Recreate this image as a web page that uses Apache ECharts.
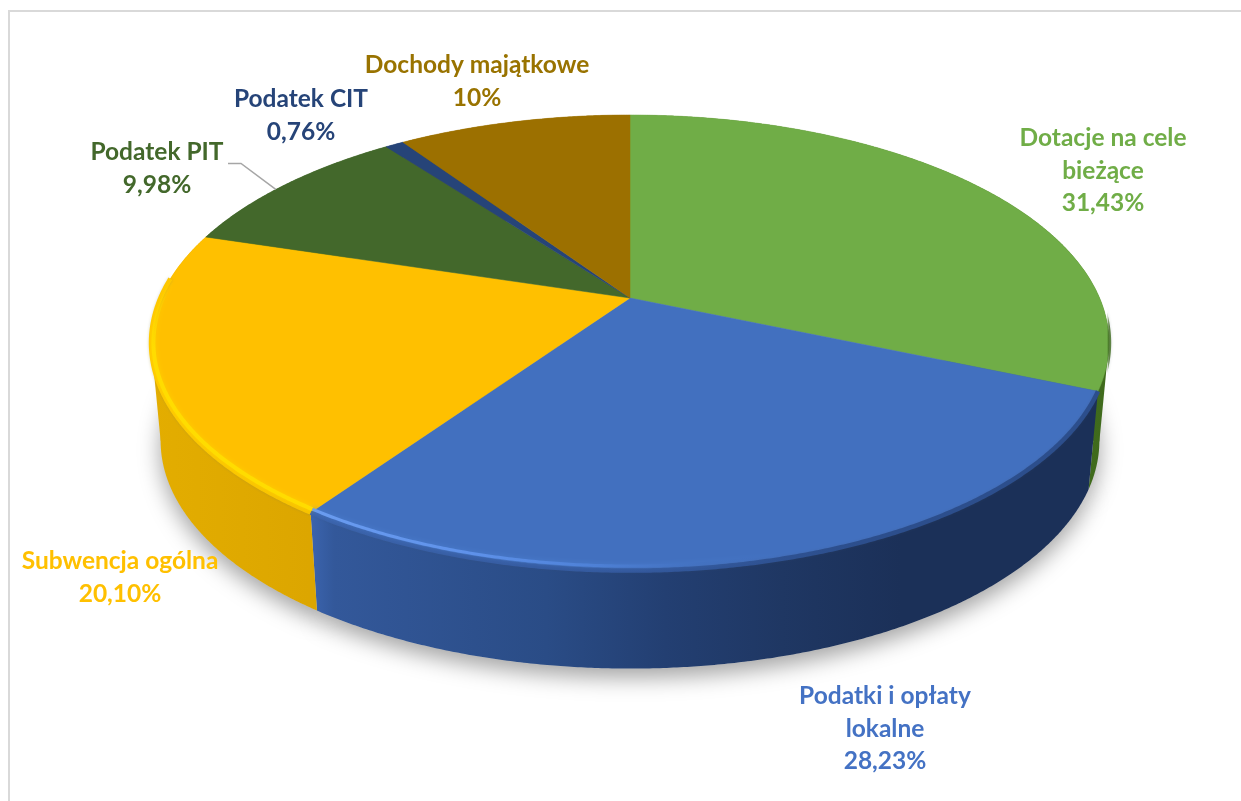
<!DOCTYPE html>
<html>
<head>
<meta charset="utf-8">
<style>html,body{margin:0;padding:0;background:#fff}#c{width:1241px;height:801px}</style>
<script src="https://cdn.jsdelivr.net/npm/echarts@6/dist/echarts.min.js"></script>
</head>
<body>
<div id="c"></div>
<script>
const categories = ['Dotacje na cele bieżące','Podatki i opłaty lokalne','Subwencja ogólna','Podatek PIT','Podatek CIT','Dochody majątkowe'];
const values = [31.43,28.23,20.10,9.98,0.76,10];
const valueLabels = ['31,43%','28,23%','20,10%','9,98%','0,76%','10%'];
const labelLines = [['Dotacje na cele','bieżące'],['Podatki i opłaty','lokalne'],['Subwencja ogólna'],['Podatek PIT'],['Podatek CIT'],['Dochody majątkowe']];
const topColors = ['#70AD47','#4270BF','#FFC000','#43682B','#264478','#9C7000'];
const labelColors = ['#70AD47','#4472C4','#FFC000','#43682B','#264478','#997300'];
const wallStops = [
  [[0,'#4d7d27'],[1,'#3f6a1c']],
  [[0,'#3b64ae'],[0.03,'#33589a'],[0.3,'#2a4c86'],[0.45,'#233f72'],[0.6,'#1f3763'],[0.75,'#1b3058'],[1,'#1b3058']],
  [[0,'#e3ad00'],[1,'#dca600']],
  [[0,'#43682B'],[1,'#43682B']],
  [[0,'#264478'],[1,'#264478']],
  [[0,'#9C7000'],[1,'#9C7000']]
];
const rimStops = [
  [[0,'rgba(63,107,29,0)'],[0.93,'rgba(63,107,29,0)'],[1,'rgba(63,107,29,0.9)']],
  [[0,'#6a9cf0'],[0.2,'#5f92ea'],[0.35,'#4f82d8'],[0.5,'rgba(66,112,191,0.6)'],[0.6,'rgba(66,112,191,0)'],[1,'rgba(66,112,191,0)']],
  [[0,'rgba(255,220,0,0)'],[0.3,'#ffdc00'],[1,'#ffdc00']],
  [[0,'rgba(0,0,0,0)'],[1,'rgba(0,0,0,0)']],
  [[0,'rgba(0,0,0,0)'],[1,'rgba(0,0,0,0)']],
  [[0,'rgba(0,0,0,0)'],[1,'rgba(0,0,0,0)']]
];
const edgeStops = [
  [[0,'rgba(63,107,29,0)'],[0.9,'rgba(63,107,29,0)'],[1,'rgba(63,107,29,0.8)']],
  [[0,'#3a62aa'],[0.4,'#33589c'],[0.7,'#2c4e8c'],[1,'#2c4e8c']],
  [[0,'#ffc800'],[1,'#f6c000']],
  [[0,'rgba(0,0,0,0)'],[1,'rgba(0,0,0,0)']],
  [[0,'rgba(0,0,0,0)'],[1,'rgba(0,0,0,0)']],
  [[0,'rgba(0,0,0,0)'],[1,'rgba(0,0,0,0)']]
];
const rimVertical = [false,false,true,false,false,false];
const labelAnchors = [[1103,122],[885,680],[120,545],[157,136],[301,83],[477,49]];

const geo = {cx:630, cy:298, R:469.6, S:219, k:0.1966, thick:98, shrink:0.98, midY:342, insetX:0.995, insetY:0.98};
// The values are percentages: the full circle is 100 units, and the printed shares
// add up to 100.5 because of rounding, so the last slice closes at the full circle.
const fullCircle = 100;
const cum = values.reduce((acc,v)=>{acc.push(acc[acc.length-1]+v);return acc;},[0]);
const angle = f => Math.min(f,fullCircle)/fullCircle*Math.PI*2;
function proj(a, lower){
  const u=Math.sin(a), v=Math.cos(a), w=1+geo.k*v;
  let x=geo.R*u/w, y=geo.cy-geo.S*v/w;
  if(lower){x*=geo.shrink; y+=geo.thick;}
  return [geo.cx+x,y];
}
function arc(i, lower){
  const a0=angle(cum[i]), a1=angle(cum[i+1]), n=Math.max(4,Math.ceil((a1-a0)/0.006)), pts=[];
  for(let j=0;j<=n;j++) pts.push(proj(a0+(a1-a0)*j/n, lower));
  return pts;
}
function grad(pts, stops, vertical){
  const xs=pts.map(p=>p[0]), ys=pts.map(p=>p[1]);
  const g=vertical?{x:0,y:Math.min(...ys),x2:0,y2:Math.max(...ys)}:{x:Math.min(...xs),y:0,x2:Math.max(...xs),y2:0};
  return Object.assign({type:'linear',global:true,colorStops:stops.map(s=>({offset:s[0],color:s[1]}))},g);
}
function extremeIndex(pts){
  let best=0;
  pts.forEach((p,j)=>{ if(Math.abs(p[0]-geo.cx)>Math.abs(pts[best][0]-geo.cx)) best=j; });
  return (best>0 && best<pts.length-1)?best:-1;
}
const seriesData = values.map(v=>[v]);

function renderShadow(params){
  const pts=arc(params.dataIndex,true);
  return {type:'polygon',shape:{points:[[geo.cx,geo.cy+geo.thick],...pts]},
    style:{fill:'#ccc',shadowBlur:22,shadowColor:'rgba(0,0,0,0.36)',shadowOffsetY:9}};
}
function renderWall(params){
  const i=params.dataIndex, up=arc(i,false), lo=arc(i,true);
  const fill=grad(up,wallStops[i]);
  const children=[{type:'polygon',shape:{points:up.concat(lo.slice().reverse())},style:{fill:fill}}];
  const eu=extremeIndex(up), el=extremeIndex(lo);
  if(eu>=0 && el>=0){
    const hub=[geo.cx,(up[eu][1]+lo[el][1])/2];
    children.push({type:'polygon',shape:{points:[up[eu],lo[el],hub]},style:{fill:fill}});
  }
  return {type:'group',children};
}
function renderTop(params){
  const i=params.dataIndex, pts=arc(i,false);
  return {type:'polygon',shape:{points:[[geo.cx,geo.cy],...pts]},
    style:{fill:topColors[i],stroke:topColors[i],lineWidth:0.5}};
}
function renderRim(params){
  const i=params.dataIndex, pts=arc(i,false).filter(p=>p[1]>geo.cy-20);
  if(pts.length<2) return {type:'group',children:[]};
  const inner=pts.map(p=>[geo.cx+(p[0]-geo.cx)*geo.insetX,geo.midY+(p[1]-geo.midY)*geo.insetY]);
  const glow=i===2?'rgba(255,216,0,0.7)':(i===1?'rgba(79,134,216,0.6)':'rgba(63,107,29,0.4)');
  return {type:'group',children:[
    {type:'polyline',shape:{points:pts},style:{fill:null,stroke:grad(pts,edgeStops[i]),lineWidth:4.5,shadowBlur:3,shadowColor:'rgba(60,80,110,0.2)'}},
    {type:'polyline',shape:{points:inner},style:{fill:null,stroke:grad(pts,rimStops[i],rimVertical[i]),lineWidth:i===2?4:3,shadowBlur:5,shadowColor:glow}}
  ]};
}
function renderLabel(params){
  const i=params.dataIndex, t=labelLines[i].concat(valueLabels[i]).join('\n');
  const children=[{type:'text',style:{text:t,x:labelAnchors[i][0],y:labelAnchors[i][1],align:'center',verticalAlign:'top',
    fill:labelColors[i],font:'bold 24.5px Lato, Carlito, sans-serif',lineHeight:32.5}}];
  if(i===3){
    const tip=proj(angle(cum[3]+values[3]*0.45),false);
    children.push({type:'polyline',shape:{points:[[labelAnchors[3][0]+71,tip[1]-26],[labelAnchors[3][0]+84,tip[1]-26],tip]},
      style:{fill:null,stroke:'#A6A6A6',lineWidth:1.5}});
  }
  return {type:'group',children};
}
const common={type:'custom',coordinateSystem:'none',data:seriesData,silent:true,animation:false,clip:false};
const chart=echarts.init(document.getElementById('c'),null,{renderer:'canvas'});
chart.setOption({
  animation:false,
  backgroundColor:'#fff',
  tooltip:{show:false},
  graphic:[{type:'rect',z:-1,silent:true,shape:{x:9,y:11,width:1300,height:900},style:{fill:'#fff',stroke:'#D9D9D9',lineWidth:2}}],
  series:[
    Object.assign({},common,{name:'cień',z:1,renderItem:renderShadow}),
    Object.assign({},common,{name:'ściana',z:2,renderItem:renderWall}),
    Object.assign({},common,{name:'wierzch',z:3,renderItem:renderTop}),
    Object.assign({},common,{name:'krawędź',z:4,renderItem:renderRim}),
    Object.assign({},common,{name:'etykiety',z:5,renderItem:renderLabel})
  ]
});
</script>
</body>
</html>
